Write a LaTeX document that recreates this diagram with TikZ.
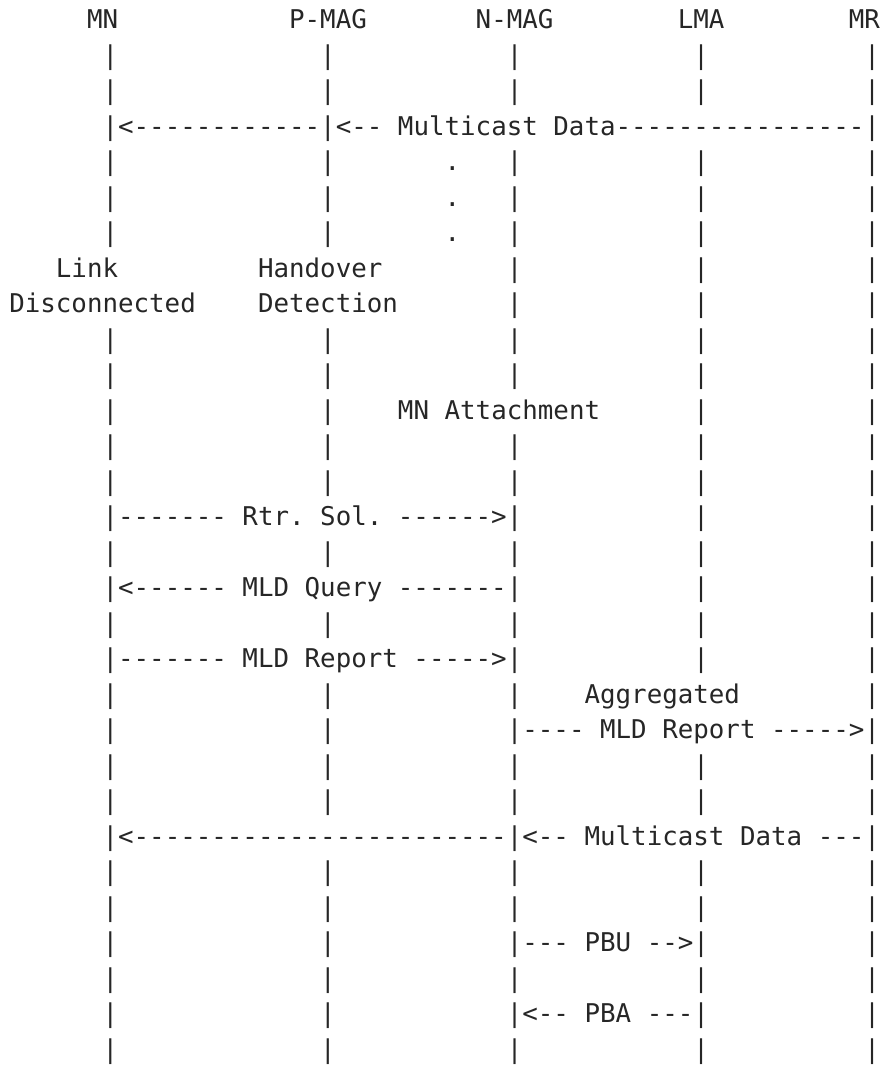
\documentclass[tikz,border=0pt]{standalone}
\usepackage{fontspec}
\setmonofont{DejaVu Sans Mono}
\usepackage{tikz}

\definecolor{ink}{HTML}{262626}
\tikzset{
  txt/.style={anchor=base west, inner sep=0pt, text=ink,
    font=\ttfamily\fontsize{19.37pt}{26pt}\selectfont}
}

\begin{document}
\begin{tikzpicture}[x=11.6625pt, y=-26.625pt]
  \useasboundingbox (-0.579,-0.817) rectangle (56.077,29.27);
  \clip (-0.579,-0.817) rectangle (56.077,29.27);

  % entities
  \node[txt] (mn) at (5,0) {MN};
  \node[txt] (pmag) at (18,0) {P-MAG};
  \node[txt] (nmag) at (30,0) {N-MAG};
  \node[txt] (lma) at (43,0) {LMA};
  \node[txt] (mr) at (54,0) {MR};

  % lifelines
  \foreach \r in {1,...,6} \node[txt] (mnbar\r) at (6,\r) {|};
  \foreach \r in {9,...,29} \node[txt] (mnbar\r) at (6,\r) {|};
  \foreach \r in {1,2,3,4,5,6,9,10,11,12,13,15,17,19,20,21,22,24,25,26,27,28,29}
    \node[txt] (pmagbar\r) at (20,\r) {|};
  \foreach \r in {1,2,4,5,6,7,8,9,10,12,13,14,15,16,17,18,19,20,21,22,23,24,25,26,27,28,29}
    \node[txt] (nmagbar\r) at (32,\r) {|};
  \foreach \r in {1,2,4,5,6,7,8,9,10,11,12,13,14,15,16,17,18,21,22,24,25,26,27,28,29}
    \node[txt] (lmabar\r) at (44,\r) {|};
  \foreach \r in {1,...,29} \node[txt] (mrbar\r) at (55,\r) {|};

  % old path
  \node[txt] (data1a) at (7,3) {<------------};
  \node[txt] (data1b) at (21,3) {<-- Multicast Data----------------};
  \foreach \r in {4,5,6} \node[txt] (dot\r) at (28,\r) {.};

  % handover
  \node[txt] (link) at (3,7) {Link};
  \node[txt] (disc) at (0,8) {Disconnected};
  \node[txt] (hand) at (16,7) {Handover};
  \node[txt] (detect) at (16,8) {Detection};
  \node[txt] (attach) at (25,11) {MN Attachment};

  % signalling
  \node[txt] (rs) at (7,14) {------- Rtr. Sol. ------>};
  \node[txt] (query) at (7,16) {<------ MLD Query -------};
  \node[txt] (report) at (7,18) {------- MLD Report ----->};
  \node[txt] (aggr) at (37,19) {Aggregated};
  \node[txt] (aggrep) at (33,20) {---- MLD Report ----->};

  % new path
  \node[txt] (data2a) at (7,23) {<------------------------};
  \node[txt] (data2b) at (33,23) {<-- Multicast Data ---};
  \node[txt] (pbu) at (33,26) {--- PBU -->};
  \node[txt] (pba) at (33,28) {<-- PBA ---};
\end{tikzpicture}
\end{document}
